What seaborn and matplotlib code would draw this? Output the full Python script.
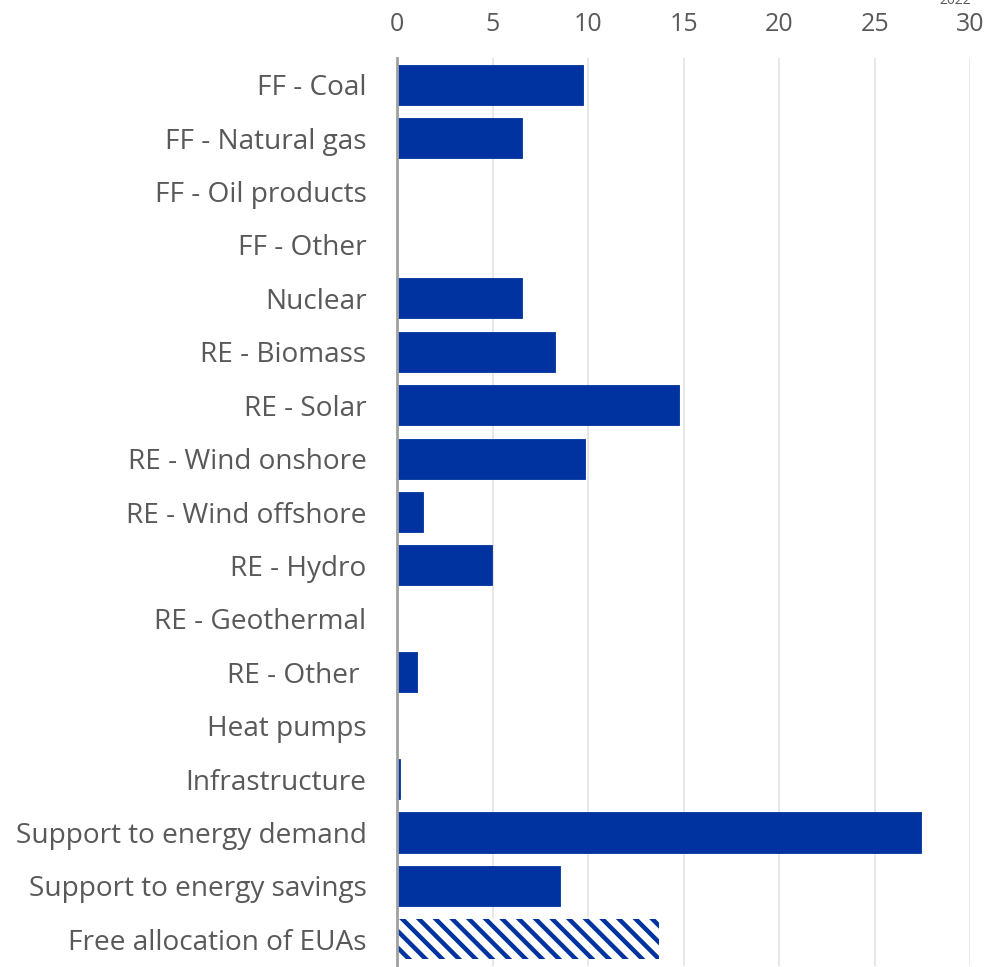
import numpy as np
import pandas as pd
import matplotlib
matplotlib.use("Agg")
import matplotlib.pyplot as plt
import seaborn as sns

categories = ["FF - Coal", "FF - Natural gas", "FF - Oil products", "FF - Other",
              "Nuclear", "RE - Biomass", "RE - Solar", "RE - Wind onshore",
              "RE - Wind offshore", "RE - Hydro", "RE - Geothermal", "RE - Other ",
              "Heat pumps", "Infrastructure", "Support to energy demand",
              "Support to energy savings", "Free allocation of EUAs"]
values = [9.75, 6.55, 0, 0, 6.55, 8.27, 14.75, 9.85, 1.36, 4.97, 0, 1.05,
          0, 0.18, 27.4, 8.55, 13.7]
xticks = [0, 5, 10, 15, 20, 25, 30]

blue = "#0033a0"
grey = "#595959"

sns.set_theme(style="white")
plt.rcParams['font.family'] = ['Open Sans', 'DejaVu Sans']
plt.rcParams['hatch.linewidth'] = 3.2
plt.rcParams['hatch.color'] = blue

df = pd.DataFrame({"cat": categories, "val": values})

fig = plt.figure(figsize=(9.9, 9.67), dpi=100)
ax = fig.add_axes([0.401, 0.001, 0.579, 0.939])
sns.barplot(data=df, x="val", y="cat", orient="h", color=blue, saturation=1,
            width=0.75, ax=ax)
for p in ax.patches:
    p.set_linewidth(0.6)
    p.set_edgecolor(blue)

# last bar hatched
last = ax.patches[-1]
last.set_facecolor("white")
last.set_edgecolor(blue)
last.set_linewidth(0)
last.set_hatch("\\\\")

ax.set_xlim(0, 30)
ax.set_ylim(len(categories) - 0.5, -0.5)
ax.set_xticks(xticks)
ax.xaxis.tick_top()
ax.tick_params(axis="x", length=0, labelsize=18, colors=grey, pad=15)
ax.tick_params(axis="y", length=0, labelsize=20.2, colors=grey, pad=22)
ax.set_xlabel("")
ax.set_ylabel("")
ax.grid(axis="x", color="#e3e3e3", linewidth=1.2)
ax.set_axisbelow(True)
for s in ["top", "right", "bottom"]:
    ax.spines[s].set_visible(False)
ax.spines["left"].set_color("#a0a0a0")
ax.spines["left"].set_linewidth(2)

fig.text(0.965, 1.0, "2022", fontsize=10, color=grey, ha="center", va="center")

fig.savefig("out.png", dpi=100)
